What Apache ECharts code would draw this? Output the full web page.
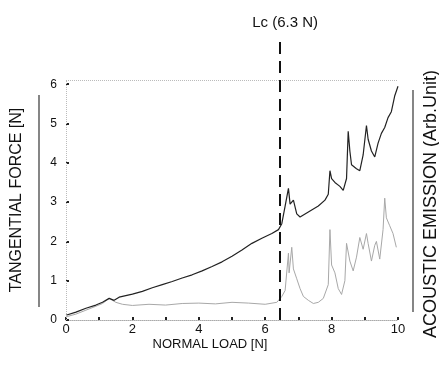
<!DOCTYPE html>
<html>
<head>
<meta charset="utf-8">
<script src="https://cdn.jsdelivr.net/npm/echarts@6/dist/echarts.min.js"></script>
<style>html,body{margin:0;padding:0;background:#fff}#c{width:439px;height:365px}</style>
</head>
<body>
<div id="c"></div>
<script>
// Tangential force [N] vs normal load [N]
const forceLoad = [0.0,0.3,0.6,0.9,1.1,1.3,1.45,1.6,1.8,2.0,2.3,2.6,2.9,3.2,3.5,3.8,4.1,4.4,4.7,5.0,5.3,5.6,5.9,6.2,6.4,6.5,6.6,6.7,6.75,6.85,6.95,7.05,7.2,7.4,7.6,7.8,7.9,7.95,8.0,8.1,8.25,8.35,8.45,8.5,8.55,8.6,8.75,8.85,8.95,9.05,9.1,9.2,9.3,9.4,9.5,9.6,9.7,9.8,9.85,9.9,10.0];
const forceValues = [0.12,0.2,0.3,0.38,0.45,0.55,0.5,0.58,0.62,0.66,0.73,0.82,0.9,0.98,1.07,1.15,1.25,1.36,1.48,1.62,1.78,1.95,2.08,2.2,2.3,2.45,2.9,3.35,2.95,3.05,2.7,2.62,2.7,2.8,2.9,3.05,3.2,3.8,3.6,3.5,3.4,3.3,3.6,4.8,4.3,3.95,3.85,3.8,4.2,4.95,4.6,4.3,4.15,4.5,4.75,4.9,5.15,5.3,5.5,5.7,5.95];
// Acoustic emission (arb. unit) vs normal load [N]
const aeLoad = [0.0,0.3,0.6,0.9,1.1,1.3,1.5,1.7,2.0,2.5,3.0,3.5,4.0,4.5,5.0,5.5,6.0,6.35,6.5,6.6,6.7,6.72,6.8,6.85,6.95,7.05,7.15,7.3,7.45,7.6,7.75,7.9,7.95,8.0,8.1,8.2,8.3,8.4,8.45,8.55,8.65,8.75,8.85,8.95,9.05,9.1,9.2,9.3,9.35,9.45,9.55,9.6,9.65,9.75,9.85,9.95];
const aeValues = [0.08,0.15,0.25,0.35,0.42,0.55,0.45,0.4,0.37,0.4,0.38,0.42,0.43,0.41,0.45,0.43,0.4,0.45,0.6,0.75,1.7,1.2,1.85,1.3,1.05,0.8,0.6,0.5,0.42,0.45,0.55,0.9,2.3,1.4,1.2,0.8,0.65,1.0,1.95,1.5,1.25,1.6,2.1,1.8,2.2,1.95,1.5,1.9,2.0,1.55,2.3,3.1,2.6,2.4,2.2,1.85];
const xTicks = [0,1,2,3,4,5,6,7,8,9,10];
const xTickLabels = [0,2,4,6,8,10];
const yTickLabels = [0,1,2,3,4,5,6];
const criticalLoad = 6.45; // drawn position of Lc line
const criticalLabel = 'Lc (6.3 N)';
const frameTop = 6.1;

const chart = echarts.init(document.getElementById('c'));
const font = 'Liberation Sans, Arial, sans-serif';
const pair = (xs, ys) => xs.map((x, i) => [x, ys[i]]);

chart.setOption({
  animation: false,
  backgroundColor: '#fff',
  grid: {left: 66, right: 41, top: 41, bottom: 45},
  xAxis: {
    type: 'value', min: 0, max: 10, interval: 1,
    axisLine: {show: true, lineStyle: {color: '#aaa', type: 'dotted', width: 1}},
    axisTick: {show: true, inside: true, length: 3, lineStyle: {color: '#222', width: 2}},
    axisLabel: {
      margin: 3, color: '#111', fontSize: 13, fontFamily: font,
      formatter: v => xTickLabels.indexOf(v) >= 0 ? String(v) : ''
    },
    splitLine: {show: false}
  },
  yAxis: [{
    type: 'value', min: 0, max: 7.1, interval: 1,
    axisLine: {show: false},
    axisTick: {show: true, inside: true, length: 3, lineStyle: {color: '#222', width: 2}, customValues: yTickLabels},
    axisLabel: {margin: 9, color: '#111', fontSize: 12, fontFamily: font, customValues: yTickLabels},
    splitLine: {show: false}
  }, {
    type: 'value', min: 0, max: 7.1, show: false
  }],
  graphic: [
    {type: 'line', shape: {x1: 39, y1: 95, x2: 39, y2: 307}, style: {stroke: '#444', lineWidth: 1.3}, silent: true},
    {type: 'line', shape: {x1: 413, y1: 90, x2: 413, y2: 312}, style: {stroke: '#444', lineWidth: 1.3}, silent: true},
    {type: 'text', x: 17, y: 200, rotation: Math.PI / 2,
      style: {text: 'TANGENTIAL FORCE [N]', fontSize: 16, fontFamily: font, fill: '#111', align: 'center', verticalAlign: 'middle'}},
    {type: 'text', x: 431, y: 204, rotation: Math.PI / 2,
      style: {text: 'ACOUSTIC EMISSION (Arb.Unit)', fontSize: 18, fontFamily: font, fill: '#111', align: 'center', verticalAlign: 'middle'}},
    {type: 'text', x: 210, y: 344,
      style: {text: 'NORMAL LOAD [N]', fontSize: 13, fontFamily: font, fill: '#111', align: 'center', verticalAlign: 'middle'}}
  ],
  series: [{
    name: 'Acoustic emission', type: 'line', yAxisIndex: 1, data: pair(aeLoad, aeValues),
    showSymbol: false, lineStyle: {color: '#a8a8a8', width: 1}, z: 2
  }, {
    name: 'Tangential force', type: 'line', data: pair(forceLoad, forceValues),
    showSymbol: false, lineStyle: {color: '#222', width: 1.2}, z: 3,
    markLine: {
      silent: true, symbol: 'none', animation: false,
      data: [
        [{coord: [0, frameTop], lineStyle: {color: '#bbb', type: 'dotted', width: 1}, label: {show: false}},
         {coord: [10, frameTop]}],
        [{coord: [0, 0], lineStyle: {color: '#bbb', type: 'dotted', width: 1}, label: {show: false}},
         {coord: [0, frameTop]}],
        [{coord: [criticalLoad, 0], lineStyle: {color: '#111', type: [12, 7], width: 2},
          label: {show: true, position: 'end', formatter: criticalLabel, distance: 11, offset: [5, 0], fontSize: 15, fontFamily: font, color: '#111'}},
         {coord: [criticalLoad, 7.1]}]
      ]
    }
  }]
});
</script>
</body>
</html>
